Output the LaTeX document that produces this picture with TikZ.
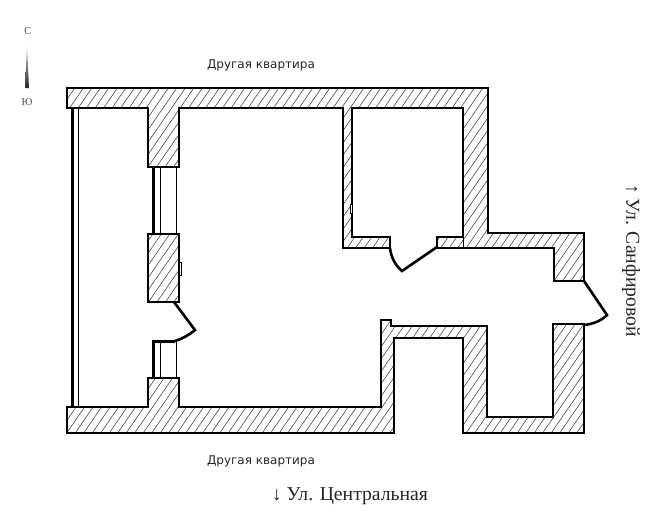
\documentclass[tikz,border=0pt]{standalone}
\usepackage{fontspec}
\setmainfont{Liberation Serif}
\newfontfamily\labelfont{DejaVu Sans}
\usetikzlibrary{shadings}

\newcommand{\wallnorth}{(67,88) -- (488,88) -- (488,233) -- (584,233) -- (584,281) -- (554,281) -- (554,248)
    -- (437,248) -- (437,237) -- (463,237) -- (463,108) -- (352,108) -- (352,237) -- (390,237) -- (390,248)
    -- (343,248) -- (343,108) -- (179,108) -- (179,167) -- (148,167) -- (148,108) -- (67,108) -- cycle}
\newcommand{\wallsouth}{(67,407) -- (148,407) -- (148,378) -- (179,378) -- (179,407) -- (381,407) -- (381,320)
    -- (391,320) -- (391,326) -- (487,326) -- (487,417) -- (553,417) -- (553,324) -- (584,324) -- (584,433)
    -- (463,433) -- (463,338) -- (394,338) -- (394,433) -- (67,433) -- cycle}
\newcommand{\wallpier}{(148,234) -- (179,234) -- (179,302) -- (148,302) -- cycle}

\tikzset{
    wall/.style={line width=2.4pt, line join=miter},
    hatch/.style={line width=.5pt, black!80},
    frame/.style={line width=.9pt},
    sash/.style={line width=3pt},
    doorleaf/.style={line width=2.6pt},
    legend/.style={font=\labelfont\fontsize{12}{14}\selectfont, text=black!85, inner sep=0pt},
    street/.style={font=\fontsize{19.7}{22}\selectfont, text=black!85, inner sep=0pt},
    compass/.style={font=\fontsize{10.5}{12}\selectfont, text=black!70, inner sep=0pt}
}

\begin{document}
\begin{tikzpicture}[x=1pt,y=-1pt]

    \useasboundingbox (0,0) rectangle (665,525);

    % hachures
    \begin{scope}
        \clip \wallnorth \wallsouth \wallpier;
        \foreach \i in {-200,-191.5,...,620} {
            \draw[hatch] (\i,450) -- ++(310,450-900);
        }
    \end{scope}

    % murs
    \draw[wall] \wallnorth;
    \draw[wall] \wallsouth;
    \draw[wall] \wallpier;
    \draw[frame] (463,237) -- (463,248);

    % balcon
    \draw[sash] (72,108) -- (72,407);
    \draw[frame] (78,108) -- (78,407);

    % fenetres
    \draw[sash] (153.5,167) -- (153.5,234);
    \draw[frame] (160,167) -- (160,234);
    \draw[frame] (176,167) -- (176,234);
    \draw[sash] (153.5,378) -- (153.5,341) -- (175,341);
    \draw[frame] (160,341) -- (160,378);
    \draw[frame] (176,341) -- (176,378);

    % portes
    \draw[doorleaf, line join=miter] (174,302) -- (195,330) .. controls (189,335) and (182,339) .. (175,341);
    \draw[doorleaf, line join=miter] (437,247) -- (402,271) .. controls (395,265) and (391,257) .. (390,248);
    \draw[doorleaf, line join=miter] (584,281) -- (607,315) .. controls (601,321) and (593,324) .. (584,325);

    % details
    \draw[line width=.6pt, fill=white] (179,262) rectangle (181,275);
    \draw[line width=.6pt, fill=white] (350.5,204) rectangle (352.5,213);

    % boussole
    \shade[top color=black!15, bottom color=black!85] (27,45) -- (29,88) -- (25,88) -- cycle;
    \node[compass] (north) at (28,31) {С};
    \node[compass] (south) at (27,102) {Ю};

    % textes
    \node[legend] (flattop) at (261,65) {Другая квартира};
    \node[legend] (flatbottom) at (261,461) {Другая квартира};
    \node[street] (central) at (350,496) {↓ Ул. Центральная};
    \node[street, rotate=-90] (sanfir) at (631,260.5) {↑ Ул. Санфировой};

\end{tikzpicture}
\end{document}
